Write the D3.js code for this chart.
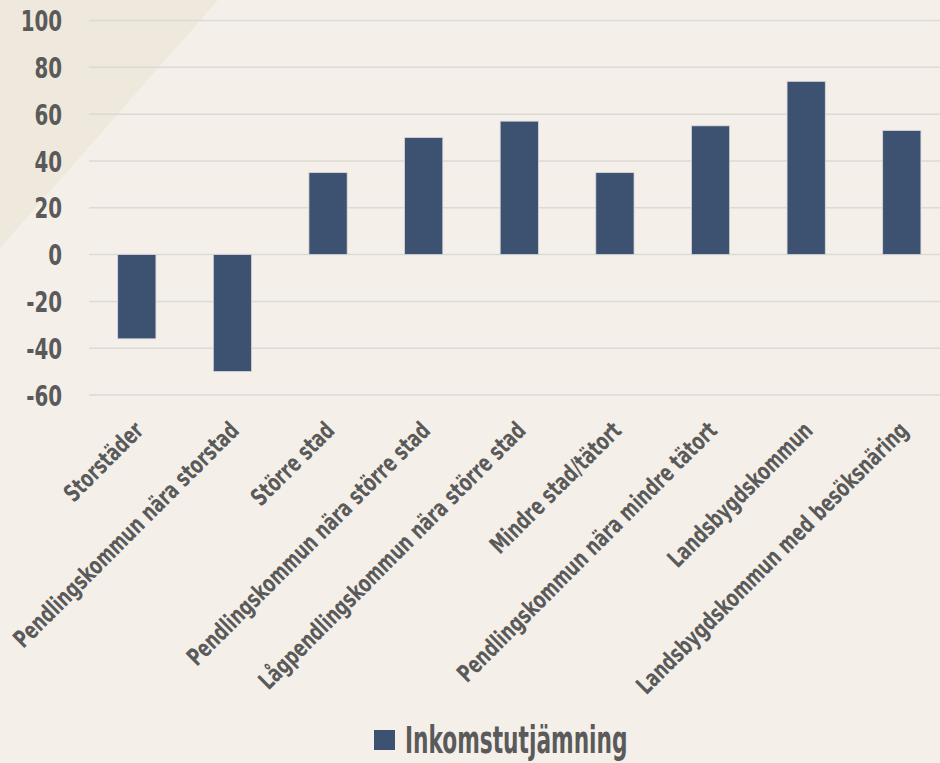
<!DOCTYPE html>
<html><head><meta charset="utf-8">
<script src="https://cdn.jsdelivr.net/npm/d3@7"></script>
<style>
html,body{margin:0;padding:0;background:#f4f0e9;}
svg{display:block;}
text{font-family:"Liberation Sans Narrow","DejaVu Sans Condensed",sans-serif;font-weight:bold;fill:#5a5a5a;}
</style></head>
<body>
<svg id="c" width="940" height="763"></svg>
<script>
const categories = ["Storstäder","Pendlingskommun nära storstad","Större stad","Pendlingskommun nära större stad","Lågpendlingskommun nära större stad","Mindre stad/tätort","Pendlingskommun nära mindre tätort","Landsbygdskommun","Landsbygdskommun med besöksnäring"];
const values = [-36,-50,35,50,57,35,55,74,53];
const yTicks = [100,80,60,40,20,0,-20,-40,-60];
const seriesName = "Inkomstutjämning";

const svg = d3.select("#c");
const W = 940, H = 763;
svg.append("rect").attr("width",W).attr("height",H).attr("fill","#f4f0e9");
svg.append("path").attr("d",`M0,0L218,0L0,248Z`).attr("fill","#efe8dc");

const x = d3.scaleBand().domain(categories).range([89,949.6]).paddingInner(0.6).paddingOuter(0.3);
const y = d3.scaleLinear().domain([-60,100]).range([395,20.5]);

// grid
svg.append("g").selectAll("line").data(yTicks).join("line")
  .attr("x1",89).attr("x2",W).attr("y1",d=>y(d)).attr("y2",d=>y(d))
  .attr("stroke","#dcdad6").attr("stroke-width",1.5);

// y axis
const ya = svg.append("g").attr("transform","translate(62,0)")
  .call(d3.axisLeft(y).tickValues(yTicks).tickSize(0).tickPadding(0).tickFormat(d=>String(d)));
ya.select(".domain").remove();
ya.selectAll("text").attr("font-size",28.6).attr("x",null).attr("dy",null)
  .attr("transform","translate(0,10.2) scale(0.77,1)");

// bars
svg.append("g").selectAll("rect").data(values).join("rect")
  .attr("x",(d,i)=>x(categories[i]))
  .attr("width",x.bandwidth())
  .attr("y",d=>y(Math.max(0,d)))
  .attr("height",d=>Math.abs(y(d)-y(0)))
  .attr("fill","#3d5271").attr("stroke","#d8d8dc").attr("stroke-width",0.8);

// x labels
const xa = svg.append("g").attr("transform","translate(0,420)")
  .call(d3.axisBottom(x).tickSize(0).tickPadding(0));
xa.select(".domain").remove();
xa.selectAll("text")
  .attr("font-size",24).attr("y",0).attr("dy",null)
  .attr("text-anchor","end")
  .attr("transform","translate(8,12) rotate(-45) scale(0.775,1)");

// legend
const lg = svg.append("g");
lg.append("rect").attr("x",374).attr("y",730).attr("width",21).attr("height",20).attr("fill","#3d5271");
lg.append("text").attr("transform","translate(405,753) scale(0.64,1)").text(seriesName)
  .attr("font-size",37.7);
</script>
</body></html>
